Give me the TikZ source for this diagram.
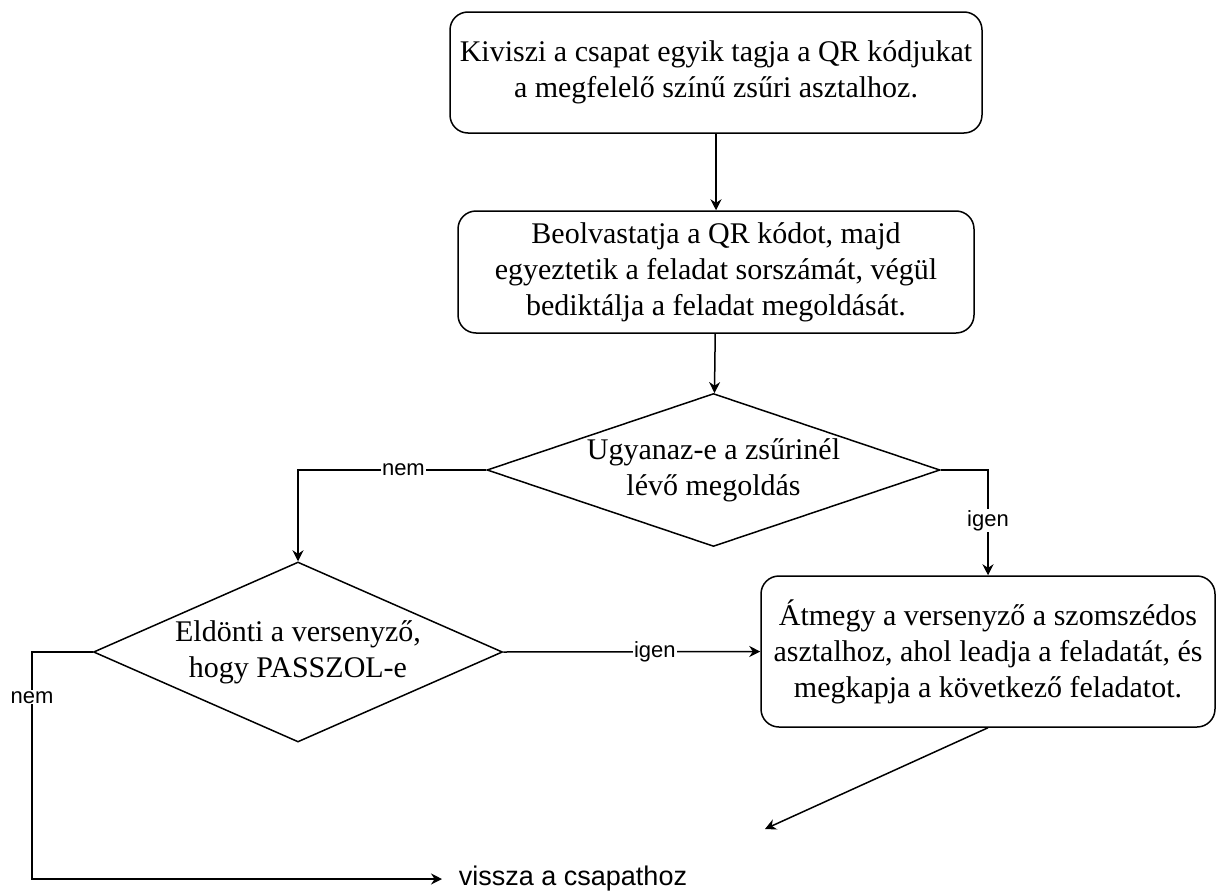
\documentclass[tikz,border=0pt]{standalone}
\usepackage{fontspec}
\setmainfont{Liberation Serif}
\setsansfont{Liberation Sans}
\usetikzlibrary{shapes.geometric,arrows.meta}

\begin{document}
\begin{tikzpicture}[x=1pt,y=-1pt,
    box/.style={draw, rounded corners=18pt, line width=1.5pt, align=center, inner sep=0pt, font=\fontsize{30}{36}\selectfont},
    decision/.style={draw, diamond, line width=1.5pt, align=center, inner sep=-6pt, font=\fontsize{30}{36}\selectfont},
    arr/.style={-{Stealth[length=11pt,width=11pt]}, line width=1.5pt},
    lbl/.style={fill=white, inner sep=1pt, font=\sffamily\fontsize{22}{22}\selectfont}]
    \useasboundingbox (0,0) rectangle (1216,894);

    % boxes
    \node[box, minimum width=532pt, minimum height=121pt] (kiviszi) at (716,72.5)
        {Kiviszi a csapat egyik tagja a QR kódjukat\\a megfelelő színű zsűri asztalhoz.};
    \node[box, minimum width=516pt, minimum height=122pt] (beolvas) at (716,272)
        {Beolvastatja a QR kódot, majd\\egyeztetik a feladat sorszámát, végül\\bediktálja a feladat megoldását.};
    \node[box, minimum width=454pt, minimum height=151pt] (atmegy) at (988,651.5)
        {Átmegy a versenyző a szomszédos\\asztalhoz, ahol leadja a feladatát, és\\megkapja a következő feladatot.};

    % decisions
    \node[decision, aspect=2.9, minimum width=453pt, minimum height=153pt] (ugyanaz) at (713.5,470)
        {Ugyanaz-e a zsűrinél\\lévő megoldás};
    \node[decision, aspect=2.27, minimum width=409pt, minimum height=180pt] (eldonti) at (298,652)
        {Eldönti a versenyző,\\hogy PASSZOL-e};

    % end text
    \node[font=\sffamily\fontsize{27}{27}\selectfont] (visszatxt) at (573,879) {vissza a csapathoz};
    \coordinate (sarok) at (32,879);
    \coordinate (vissza) at (442,879);
    \coordinate (vege) at (765,829);

    % arrows
    \draw[arr] (kiviszi) -- (beolvas);
    \draw[arr] (beolvas) -- (ugyanaz);
    \draw[arr] (ugyanaz.west) -| node[lbl, pos=0.22] {nem} (eldonti.north);
    \draw[arr] (ugyanaz.east) -| node[lbl, pos=0.74] {igen} (atmegy.north);
    \draw[arr] (eldonti.east) -- node[lbl, pos=0.59] {igen} (atmegy.west);
    \draw[arr] (eldonti.west) -| node[lbl, pos=0.6] {nem} (sarok) -- (vissza);
    \draw[arr] (atmegy.south) -- (vege);
\end{tikzpicture}
\end{document}
